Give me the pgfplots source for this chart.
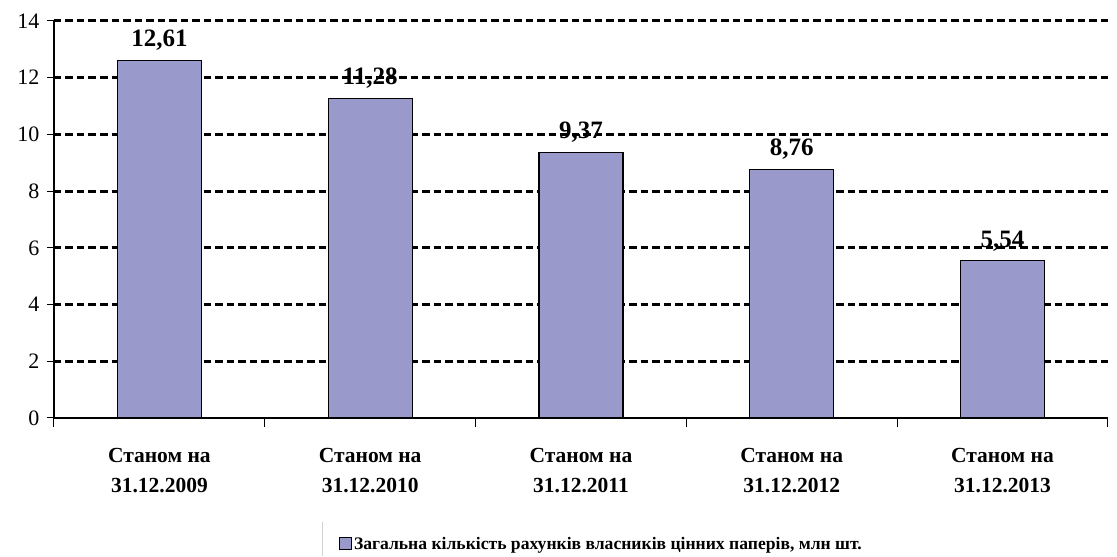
\documentclass[border=0pt]{standalone}
\usepackage{fontspec}
\setmainfont{Liberation Serif}
\usepackage{pgfplots}
\pgfplotsset{compat=1.18}
\definecolor{barcol}{RGB}{153,153,204}
\begin{document}
\begin{tikzpicture}
\begin{axis}[
  name=ax,
  scale only axis,
  width=1054pt, height=397pt,
  xmin=-0.5, xmax=4.5, ymin=0, ymax=14,
  axis lines=left,
  axis line style={-, line width=1.2pt},
  ytick={2,4,...,14},
  extra y ticks={0},
  extra y tick style={grid=none},
  xtick={0,1,2,3,4},
  xticklabels={{Станом на\\31.12.2009},{Станом на\\31.12.2010},{Станом на\\31.12.2011},{Станом на\\31.12.2012},{Станом на\\31.12.2013}},
  xticklabel style={align=center, font=\fontsize{21.5}{30}\selectfont\bfseries, yshift=-20pt},
  yticklabel style={font=\fontsize{22}{26}\selectfont, anchor=east, xshift=-4pt},
  /pgf/number format/assume math mode=true,
  tick align=outside,
  major x tick style={draw=none},
  major y tick style={black, line width=1pt},
  major tick length=7pt,
  extra x ticks={-0.5,0.5,1.5,2.5,3.5,4.5},
  extra x tick labels={},
  extra x tick style={major x tick style={draw=black, line width=1pt}, major tick length=9pt},
  ymajorgrids,
  grid style={black, line width=3pt, dash pattern=on 7.5pt off 4pt},
  nodes near coords={\pgfmathprintnumber[use comma,fixed,fixed zerofill,precision=2,assume math mode=true]{\pgfplotspointmeta}},
  every node near coord/.append style={font=\fontsize{25}{28}\selectfont\bfseries, black, yshift=6pt},
  legend style={at={(0.2676,-0.317)}, anchor=west, draw=none, fill=none, font=\fontsize{17.6}{22}\selectfont\bfseries},
  legend image code/.code={\draw[fill=barcol,draw=black,line width=0.8pt] (0pt,-6pt) rectangle (12pt,6pt);},
  clip=false,
]
\addplot[ybar, bar width=84pt, fill=barcol, draw=black, line width=1.2pt] coordinates {(0,12.61)(1,11.28)(2,9.37)(3,8.76)(4,5.54)};
\addlegendentry{Загальна кількість рахунків власників цінних паперів, млн шт.}
\end{axis}
\draw[gray!35] (ax.south west) ++(268pt,-104pt) -- ++(0,-34pt);
\path (ax.south west) ++(-54pt,-138pt) rectangle ++(1117pt,556pt);
\end{tikzpicture}
\end{document}
